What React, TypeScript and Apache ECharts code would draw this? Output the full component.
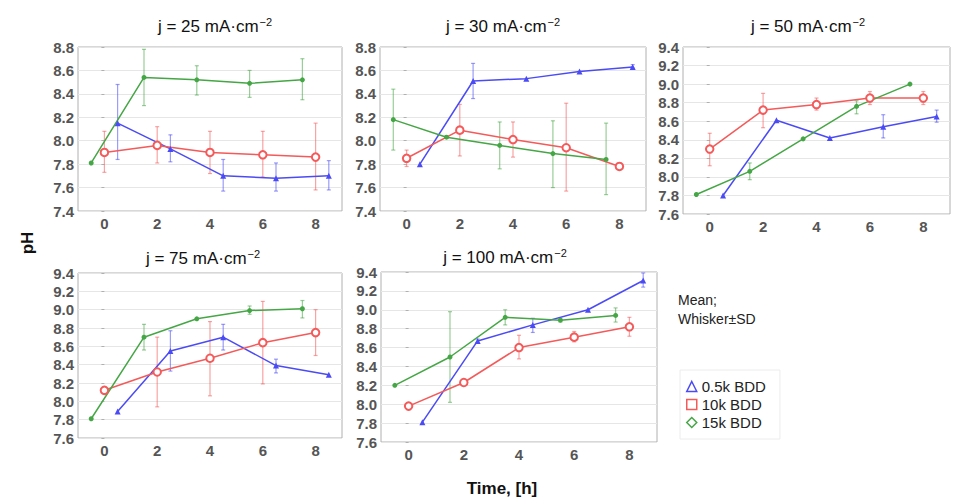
import React, { useEffect, useRef } from "react";
import * as echarts from "echarts";

// x positions (time, h) — series are offset for readability
const xBlue = [0.5, 2.5, 4.5, 6.5, 8.5];
const xRed = [0, 2, 4, 6, 8];
const xGreen = [-0.5, 1.5, 3.5, 5.5, 7.5];

const panelTitles = ["25", "30", "50", "75", "100"];
const seriesNames = ["0.5k BDD", "10k BDD", "15k BDD"];

// j = 25
const p25Blue = [8.15, 7.93, 7.7, 7.68, 7.7];
const p25BlueLo = [7.84, 7.82, 7.57, 7.57, 7.58];
const p25BlueHi = [8.48, 8.05, 7.84, 7.81, 7.83];
const p25Red = [7.9, 7.96, 7.9, 7.88, 7.86];
const p25RedLo = [7.73, 7.81, 7.72, 7.69, 7.58];
const p25RedHi = [8.08, 8.12, 8.08, 8.08, 8.15];
const p25Green = [7.81, 8.54, 8.52, 8.49, 8.52];
const p25GreenLo = [7.81, 8.3, 8.39, 8.37, 8.35];
const p25GreenHi = [7.81, 8.78, 8.64, 8.6, 8.7];

// j = 30
const p30Blue = [7.8, 8.51, 8.53, 8.59, 8.63];
const p30BlueLo = [7.8, 8.36, 8.53, 8.59, 8.62];
const p30BlueHi = [7.8, 8.66, 8.53, 8.59, 8.65];
const p30Red = [7.85, 8.09, 8.01, 7.94, 7.78];
const p30RedLo = [7.78, 7.87, 7.86, 7.57, 7.77];
const p30RedHi = [7.92, 8.31, 8.16, 8.32, 7.79];
const p30Green = [8.18, 8.03, 7.96, 7.89, 7.84];
const p30GreenLo = [7.92, 8.02, 7.76, 7.6, 7.54];
const p30GreenHi = [8.44, 8.04, 8.16, 8.17, 8.15];

// j = 50
const p50Blue = [7.8, 8.61, 8.42, 8.54, 8.65];
const p50BlueLo = [7.8, 8.61, 8.42, 8.42, 8.59];
const p50BlueHi = [7.8, 8.61, 8.42, 8.67, 8.72];
const p50Red = [8.3, 8.72, 8.78, 8.85, 8.85];
const p50RedLo = [8.12, 8.53, 8.72, 8.78, 8.78];
const p50RedHi = [8.47, 8.9, 8.85, 8.92, 8.92];
const p50Green = [7.81, 8.06, 8.41, 8.76, 9.0];
const p50GreenLo = [7.81, 7.97, 8.41, 8.68, 9.0];
const p50GreenHi = [7.81, 8.15, 8.41, 8.82, 9.0];

// j = 75
const p75Blue = [7.89, 8.55, 8.7, 8.39, 8.29];
const p75BlueLo = [7.89, 8.33, 8.56, 8.31, 8.29];
const p75BlueHi = [7.89, 8.77, 8.84, 8.46, 8.29];
const p75Red = [8.12, 8.32, 8.47, 8.64, 8.75];
const p75RedLo = [8.12, 7.94, 8.06, 8.19, 8.5];
const p75RedHi = [8.12, 8.7, 8.87, 9.09, 9.0];
const p75Green = [7.81, 8.7, 8.9, 8.99, 9.01];
const p75GreenLo = [7.81, 8.56, 8.9, 8.95, 8.91];
const p75GreenHi = [7.81, 8.84, 8.9, 9.04, 9.1];

// j = 100
const p100Blue = [7.81, 8.67, 8.84, 9.0, 9.31];
const p100BlueLo = [7.81, 8.65, 8.76, 9.0, 9.24];
const p100BlueHi = [7.81, 8.69, 8.91, 9.0, 9.39];
const p100Red = [7.98, 8.23, 8.6, 8.71, 8.82];
const p100RedLo = [7.97, 8.2, 8.48, 8.66, 8.72];
const p100RedHi = [7.99, 8.26, 8.73, 8.77, 8.92];
const p100Green = [8.2, 8.5, 8.92, 8.89, 8.94];
const p100GreenLo = [8.2, 8.02, 8.84, 8.87, 8.87];
const p100GreenHi = [8.2, 8.98, 9.0, 8.91, 9.02];

const xTicks = [0, 2, 4, 6, 8];
const yMinMax = [
  [7.4, 8.8],
  [7.4, 8.8],
  [7.6, 9.4],
  [7.6, 9.4],
  [7.6, 9.4],
];

const panels = [
  [[p25Blue, p25BlueLo, p25BlueHi], [p25Red, p25RedLo, p25RedHi], [p25Green, p25GreenLo, p25GreenHi]],
  [[p30Blue, p30BlueLo, p30BlueHi], [p30Red, p30RedLo, p30RedHi], [p30Green, p30GreenLo, p30GreenHi]],
  [[p50Blue, p50BlueLo, p50BlueHi], [p50Red, p50RedLo, p50RedHi], [p50Green, p50GreenLo, p50GreenHi]],
  [[p75Blue, p75BlueLo, p75BlueHi], [p75Red, p75RedLo, p75RedHi], [p75Green, p75GreenLo, p75GreenHi]],
  [[p100Blue, p100BlueLo, p100BlueHi], [p100Red, p100RedLo, p100RedHi], [p100Green, p100GreenLo, p100GreenHi]],
];

const COLORS = ["#4b4bf5", "#f45a5a", "#45a645"];
const XS = [xBlue, xRed, xGreen];
const FONT = "'Liberation Sans', Arial, sans-serif";

// layout (pixels)
const gridBoxes = [
  { left: 78, top: 47, width: 264, height: 164 },
  { left: 380, top: 47, width: 266, height: 164 },
  { left: 683, top: 47, width: 267, height: 167 },
  { left: 78, top: 273, width: 264, height: 165 },
  { left: 381, top: 272, width: 276, height: 170 },
];
const titlePos = [
  [210, 11],
  [498, 11],
  [803, 11],
  [198, 243],
  [500, 242],
];

export default function App() {
  const ref = useRef<HTMLDivElement>(null);
  useEffect(() => {
    if (!ref.current) return;
    const chart = echarts.init(ref.current, null, { renderer: "svg" });

    const grid = gridBoxes.map((g) => ({
      ...g,
      show: true,
      borderColor: "#b0b0b0",
      borderWidth: 1,
      backgroundColor: "#fff",
    }));

    const xAxis = gridBoxes.map((_, i) => ({
      type: "value",
      gridIndex: i,
      min: -1,
      max: 9,
      interval: 1,
      axisLine: { show: false },
      axisTick: { show: false },
      splitLine: { show: false },
      axisLabel: {
        show: true,
        formatter: (v: number) => (xTicks.includes(v) ? String(v) : ""),
        color: "#555",
        fontFamily: FONT,
        fontWeight: "bold",
        fontSize: 15,
        margin: 5,
        showMinLabel: true,
        showMaxLabel: true,
      },
    }));

    const yAxis = gridBoxes.map((_, i) => ({
      type: "value",
      gridIndex: i,
      min: yMinMax[i][0],
      max: yMinMax[i][1],
      interval: 0.2,
      axisLine: { show: false },
      axisTick: { show: true, length: 3, lineStyle: { color: "#b0b0b0" } },
      splitLine: { show: true, lineStyle: { color: "#e6e6e6", width: 1 } },
      axisLabel: {
        formatter: (v: number) => v.toFixed(1),
        color: "#555",
        fontFamily: FONT,
        fontWeight: "bold",
        fontSize: 15,
        margin: 4,
      },
    }));

    const series: any[] = [];
    panels.forEach((panel, pi) => {
      panel.forEach((triple, si) => {
        const [mean, lo, hi] = triple;
        const xs = XS[si];
        const color = COLORS[si];
        series.push({
          type: "custom",
          name: seriesNames[si],
          xAxisIndex: pi,
          yAxisIndex: pi,
          silent: true,
          z: 2,
          data: xs.map((x, k) => [x, lo[k], hi[k]]),
          renderItem: (params: any, api: any) => {
            const x = api.value(0);
            const l = api.value(1);
            const h = api.value(2);
            if (Math.abs(h - l) < 0.005) return { type: "group", children: [] };
            const p1 = api.coord([x, l]);
            const p2 = api.coord([x, h]);
            const cw = 2;
            const style = { stroke: color, lineWidth: 1.2, opacity: 0.55 };
            return {
              type: "group",
              children: [
                { type: "line", shape: { x1: p1[0], y1: p1[1], x2: p2[0], y2: p2[1] }, style },
                { type: "line", shape: { x1: p1[0] - cw, y1: p1[1], x2: p1[0] + cw, y2: p1[1] }, style },
                { type: "line", shape: { x1: p2[0] - cw, y1: p2[1], x2: p2[0] + cw, y2: p2[1] }, style },
              ],
            };
          },
        });
        series.push({
          type: "line",
          name: seriesNames[si],
          xAxisIndex: pi,
          yAxisIndex: pi,
          z: 3,
          data: xs.map((x, k) => [x, mean[k]]),
          symbol: si === 0 ? "triangle" : si === 1 ? "emptyCircle" : "circle",
          symbolSize: si === 0 ? 6 : si === 1 ? 7.5 : 5,
          showSymbol: true,
          clip: false,
          lineStyle: { color, width: 1.5 },
          itemStyle: { color, borderColor: color, borderWidth: si === 1 ? 1.4 : 0 },
        });
      });
    });

    const title = panelTitles.map((t, i) => ({
      text: `j = ${t} mA·cm{sup|−2}`,
      left: titlePos[i][0],
      top: titlePos[i][1],
      textAlign: "center",
      textStyle: {
        fontFamily: FONT,
        fontSize: 17,
        fontWeight: "normal",
        color: "#111",
        rich: {
          sup: { fontFamily: FONT, fontSize: 11, verticalAlign: "top", color: "#111", padding: [0, 0, 9, 1] },
        },
      },
    }));

    chart.setOption({
      animation: false,
      backgroundColor: "#fff",
      title,
      grid,
      xAxis,
      yAxis,
      series,
      legend: {
        orient: "vertical",
        left: 680,
        top: 370,
        itemGap: 3,
        itemWidth: 10,
        itemHeight: 10,
        padding: [9, 14, 9, 6],
        borderColor: "#ececec",
        borderWidth: 1,
        selectedMode: false,
        textStyle: { fontFamily: FONT, fontSize: 15, color: "#222" },
        data: [
          { name: seriesNames[0], icon: "triangle", itemStyle: { color: "transparent", borderColor: COLORS[0], borderWidth: 1.5 } },
          { name: seriesNames[1], icon: "rect", itemStyle: { color: "transparent", borderColor: COLORS[1], borderWidth: 1.5 } },
          { name: seriesNames[2], icon: "diamond", itemStyle: { color: "transparent", borderColor: COLORS[2], borderWidth: 1.5 } },
        ],
      },
      graphic: [
        {
          type: "text",
          x: 27,
          y: 243,
          rotation: Math.PI / 2,
          style: {
            text: "pH",
            fontFamily: FONT,
            fontSize: 17,
            fontWeight: "bold",
            fill: "#111",
            align: "center",
            verticalAlign: "middle",
          },
        },
        {
          type: "text",
          x: 502,
          y: 488,
          style: {
            text: "Time, [h]",
            fontFamily: FONT,
            fontSize: 17,
            fontWeight: "bold",
            fill: "#111",
            align: "center",
            verticalAlign: "middle",
          },
        },
        {
          type: "text",
          x: 678,
          y: 300,
          style: { text: "Mean;", fontFamily: FONT, fontSize: 14, fill: "#222", verticalAlign: "middle" },
        },
        {
          type: "text",
          x: 678,
          y: 319,
          style: { text: "Whisker±SD", fontFamily: FONT, fontSize: 14, fill: "#222", verticalAlign: "middle" },
        },
      ],
    });
    return () => chart.dispose();
  }, []);
  return <div ref={ref} style={{ width: 955, height: 504, position: "absolute", left: 0, top: 0 }} />;
}
